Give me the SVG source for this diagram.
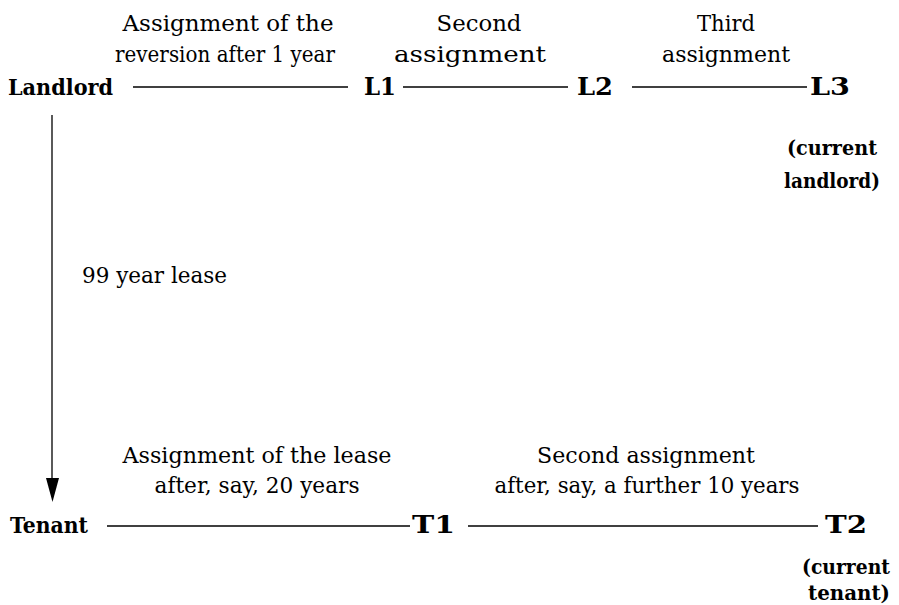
<svg xmlns="http://www.w3.org/2000/svg" width="899" height="605" viewBox="0 0 899 605">
<style>
.l{stroke:#000;stroke-width:1.3;fill:none}
text{font-family:'DejaVu Serif','Liberation Serif',serif;fill:#000}
.r{font-size:22px}
.b{font-weight:bold;font-size:23px}
.s{font-weight:bold;font-size:20px}
.n{font-weight:bold;font-size:25px}
</style>
<g id="connectors">
<line class="l" x1="133" y1="87" x2="348" y2="87"/>
<line class="l" x1="403" y1="87" x2="568" y2="87"/>
<line class="l" x1="632" y1="87" x2="807" y2="87"/>
<line class="l" x1="52" y1="115" x2="52" y2="480"/>
<path d="M46,478 L59,478 L52.5,502 Z" fill="#000"/>
<line class="l" x1="107" y1="526" x2="410" y2="526"/>
<line class="l" x1="468" y1="526" x2="818" y2="526"/>
</g>
<g id="labels">
<text class="r" x="228" y="31" text-anchor="middle" textLength="211" lengthAdjust="spacingAndGlyphs">Assignment of the</text>
<text class="r" x="225" y="62" text-anchor="middle" textLength="220" lengthAdjust="spacingAndGlyphs">reversion after 1 year</text>
<text class="r" x="479" y="31" text-anchor="middle" textLength="85" lengthAdjust="spacingAndGlyphs">Second</text>
<text class="r" x="470" y="62" text-anchor="middle" textLength="152" lengthAdjust="spacingAndGlyphs">assignment</text>
<text class="r" x="726" y="31" text-anchor="middle" textLength="58" lengthAdjust="spacingAndGlyphs">Third</text>
<text class="r" x="726" y="62" text-anchor="middle" textLength="128" lengthAdjust="spacingAndGlyphs">assignment</text>
<text class="r" x="82" y="283" textLength="145" lengthAdjust="spacingAndGlyphs">99 year lease</text>
<text class="r" x="257" y="463" text-anchor="middle" textLength="269" lengthAdjust="spacingAndGlyphs">Assignment of the lease</text>
<text class="r" x="257" y="493" text-anchor="middle" textLength="205" lengthAdjust="spacingAndGlyphs">after, say, 20 years</text>
<text class="r" x="646" y="463" text-anchor="middle" textLength="218" lengthAdjust="spacingAndGlyphs">Second assignment</text>
<text class="r" x="647" y="493" text-anchor="middle" textLength="305" lengthAdjust="spacingAndGlyphs">after, say, a further 10 years</text>
</g>
<g id="Landlord"><text class="b" x="8" y="95" textLength="105" lengthAdjust="spacingAndGlyphs">Landlord</text></g>
<g id="L1"><text class="n" x="364" y="95" textLength="32" lengthAdjust="spacingAndGlyphs">L1</text></g>
<g id="L2"><text class="n" x="577" y="95" textLength="36" lengthAdjust="spacingAndGlyphs">L2</text></g>
<g id="L3"><text class="n" x="810" y="95" textLength="40" lengthAdjust="spacingAndGlyphs">L3</text>
<text class="s" x="832" y="155" text-anchor="middle" textLength="90" lengthAdjust="spacingAndGlyphs">(current</text>
<text class="s" x="832" y="188" text-anchor="middle" textLength="96" lengthAdjust="spacingAndGlyphs">landlord)</text></g>
<g id="Tenant"><text class="b" x="10" y="533" textLength="78" lengthAdjust="spacingAndGlyphs">Tenant</text></g>
<g id="T1"><text class="n" x="412" y="533" textLength="43" lengthAdjust="spacingAndGlyphs">T1</text></g>
<g id="T2"><text class="n" x="825" y="533" textLength="42" lengthAdjust="spacingAndGlyphs">T2</text>
<text class="s" x="846" y="574" text-anchor="middle" textLength="88" lengthAdjust="spacingAndGlyphs">(current</text>
<text class="s" x="849" y="600" text-anchor="middle" textLength="82" lengthAdjust="spacingAndGlyphs">tenant)</text></g>
</svg>
